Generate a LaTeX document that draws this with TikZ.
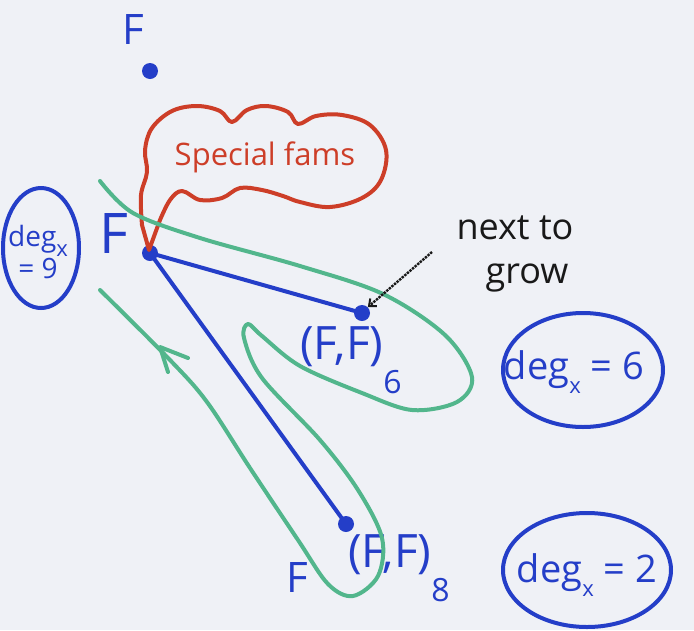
\documentclass[tikz,border=0pt]{standalone}
\usepackage{fontspec}
\setmainfont{Open Sans}
\usetikzlibrary{arrows.meta}
\definecolor{bg}{RGB}{239,241,246}
\definecolor{pblue}{RGB}{36,62,200}
\definecolor{pred}{RGB}{205,62,40}
\definecolor{pgreen}{RGB}{82,182,140}
\definecolor{pink}{RGB}{25,25,25}
\newcommand{\degx}{deg\raisebox{-0.35em}{\fontsize{22}{22}\selectfont x}}
\tikzset{
  pen/.style={line width=4pt, line cap=round, line join=round},
  dotnode/.style={circle, fill=pblue, inner sep=0pt, minimum size=16pt},
  bluetxt/.style={text=pblue, inner sep=0pt},
}
\begin{document}
\begin{tikzpicture}[x=1pt,y=-1pt]
\fill[bg] (0,0) rectangle (694,630);
\useasboundingbox (0,0) rectangle (694,630);

% dots
\node[dotnode] (dot0) at (150,71) {};
\node[dotnode] (dotA) at (150,253) {};
\node[dotnode] (dotB) at (362,313) {};
\node[dotnode] (dotC) at (346,524) {};

% labels
\node[bluetxt, font=\fontsize{42}{42}\selectfont] (F0) at (133,30) {F};
\node[bluetxt, font=\fontsize{56}{56}\selectfont] (F1) at (114,234) {F};
\node[bluetxt, font=\fontsize{42}{42}\selectfont] (F2) at (297,577) {F};
\node[bluetxt, font=\fontsize{46}{46}\selectfont, anchor=west] (FF6) at (300,360) {(F,F)\raisebox{-0.75em}{\fontsize{32}{32}\selectfont 6}};
\node[bluetxt, font=\fontsize{46}{46}\selectfont, anchor=west] (FF8) at (348,568) {(F,F)\raisebox{-0.75em}{\fontsize{32}{32}\selectfont 8}};

% blue connectors
\draw[pen, draw=pblue] (dotA.center) -- (dotB.center);
\draw[pen, draw=pblue] (dotA.center) -- (dotC.center);

% degree ellipses
\draw[pen, draw=pblue] (41,248) ellipse [x radius=38, y radius=60];
\node[bluetxt, font=\fontsize{28}{32}\selectfont, align=center] (deg9) at (38,252) {\degx\\= 9};
\draw[pen, draw=pblue] (583,370) ellipse [x radius=80, y radius=57];
\node[bluetxt, font=\fontsize{38}{38}\selectfont] (deg6) at (574,372) {\degx{} = 6};
\draw[pen, draw=pblue] (587,570) ellipse [x radius=84, y radius=57];
\node[bluetxt, font=\fontsize{38}{38}\selectfont] (deg2) at (587,575) {\degx{} = 2};

% red cloud with tail
\draw[pen, draw=pred] (149,250) -- plot[smooth, tension=0.6] coordinates {
  (142,225) (141,195) (147,172) (145,150) (152,128) (172,111) (197,106) (220,111) (232,122)
  (247,110) (266,106) (288,112) (298,124) (316,116) (342,115) (370,125) (386,150)
  (381,180) (362,198) (330,207) (300,202) (283,196) (262,190) (240,188) (222,198) (200,200)
  (182,191) (170,200) (160,220)} -- cycle;
\node[text=pred, inner sep=0pt, font=\fontsize{31}{31}\selectfont] (special) at (265,157) {Special fams};

% green loop
\draw[pen, draw=pgreen]
  plot[smooth, tension=0.55] coordinates {
  (100,181) (133,213) (200,238) (300,266) (383,294) (445,335) (472,377) (457,402) (412,410)
  (362,393) (300,366) (262,336) (248,324) (244,338) (262,378) (320,440) (358,490) (382,538)
  (378,576) (353,596) (328,584) (298,540) (250,468) (207,402) (170,360) (100,290)};
% arrow chevron on the green loop
\coordinate (chtip) at (160,347);
\coordinate (charm1) at (188,358);
\coordinate (charm2) at (168,372);
\draw[pen, draw=pgreen] (charm1) -- (chtip) -- (charm2);

% next to grow
\node[text=pink, inner sep=0pt, font=\fontsize{36}{36}\selectfont] (next) at (515,228) {next to};
\node[text=pink, inner sep=0pt, font=\fontsize{36}{36}\selectfont] (grow) at (527,278) {grow};
\coordinate (ntail) at (432,252);
\draw[line width=2.4pt, draw=pink, densely dotted, -{Straight Barb[length=6pt,width=10pt,line width=2pt]}] (ntail) -- (dotB.north east);
\end{tikzpicture}
\end{document}
